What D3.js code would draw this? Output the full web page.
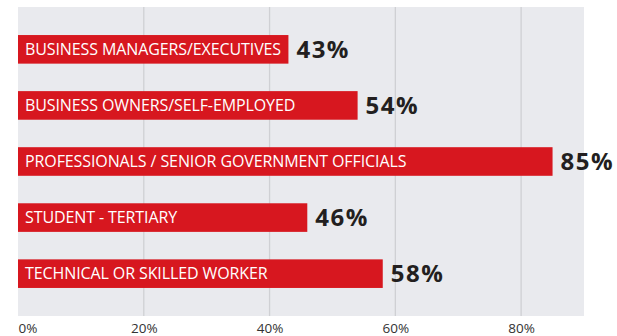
<!DOCTYPE html>
<html>
<head>
<meta charset="utf-8">
<script src="https://cdn.jsdelivr.net/npm/d3@7"></script>
<style>
  html, body { margin: 0; padding: 0; background: #fff; }
  svg { display: block; }
</style>
</head>
<body>
<svg id="chart" width="617" height="336"></svg>
<script>
// Occupations and share of respondents (%)
const categories = [
  "BUSINESS MANAGERS/EXECUTIVES",
  "BUSINESS OWNERS/SELF-EMPLOYED",
  "PROFESSIONALS / SENIOR GOVERNMENT OFFICIALS",
  "STUDENT - TERTIARY",
  "TECHNICAL OR SKILLED WORKER"
];
const values = [43, 54, 85, 46, 58];
const tickValues = [0, 20, 40, 60, 80];
const tickLabels = ["0%", "20%", "40%", "60%", "80%"];

const svg = d3.select("#chart");
const plot = { left: 18, right: 584, top: 7, bottom: 316 };

const x = d3.scaleLinear().domain([0, 90]).range([plot.left, plot.right]);
const y = d3.scaleBand()
  .domain(categories)
  .range([plot.top, plot.bottom])
  .paddingInner(0.49)
  .paddingOuter(0.5);

// panel background
svg.append("rect")
  .attr("x", plot.left).attr("y", plot.top)
  .attr("width", plot.right - plot.left)
  .attr("height", plot.bottom - plot.top)
  .attr("fill", "#e9eaee");

// vertical gridlines
svg.append("g")
  .selectAll("line")
  .data(tickValues.filter(d => d > 0))
  .join("line")
  .attr("x1", d => x(d)).attr("x2", d => x(d))
  .attr("y1", plot.top).attr("y2", plot.bottom)
  .attr("stroke", "#cfd0d4")
  .attr("stroke-width", 1.3);

// bars
svg.append("g")
  .selectAll("rect")
  .data(values)
  .join("rect")
  .attr("x", x(0))
  .attr("y", (d, i) => y(categories[i]))
  .attr("width", d => x(d) - x(0))
  .attr("height", y.bandwidth())
  .attr("fill", "#d7171f");

// category names inside the bars
svg.append("g")
  .selectAll("text")
  .data(categories)
  .join("text")
  .attr("x", x(0) + 7)
  .attr("y", d => y(d) + y.bandwidth() / 2)
  .attr("dy", "0.36em")
  .attr("fill", "#fff")
  .style("font-family", "'Open Sans', sans-serif")
  .style("font-size", "16px")
  .style("letter-spacing", "-0.1px")
  .text(d => d);

// value labels
svg.append("g")
  .selectAll("text")
  .data(values)
  .join("text")
  .attr("x", d => x(d) + 8)
  .attr("y", (d, i) => y(categories[i]) + y.bandwidth() / 2)
  .attr("dy", "0.36em")
  .attr("fill", "#231f20")
  .style("font-family", "'Open Sans', sans-serif")
  .style("font-weight", "bold")
  .style("font-size", "24px")
  .style("letter-spacing", "1.5px")
  .text(d => d + "%");

// x axis labels
const axis = d3.axisBottom(x)
  .tickValues(tickValues)
  .tickFormat((d, i) => tickLabels[i])
  .tickSize(0)
  .tickPadding(0);

const gx = svg.append("g")
  .attr("transform", `translate(0,${plot.bottom})`)
  .call(axis);
gx.select(".domain").remove();
gx.selectAll("text")
  .attr("y", 17)
  .attr("dy", "0")
  .attr("fill", "#333")
  .style("font-family", "'Open Sans', sans-serif")
  .style("font-size", "13.5px")
  .attr("text-anchor", (d, i) => i === 0 ? "start" : "middle");
</script>
</body>
</html>
